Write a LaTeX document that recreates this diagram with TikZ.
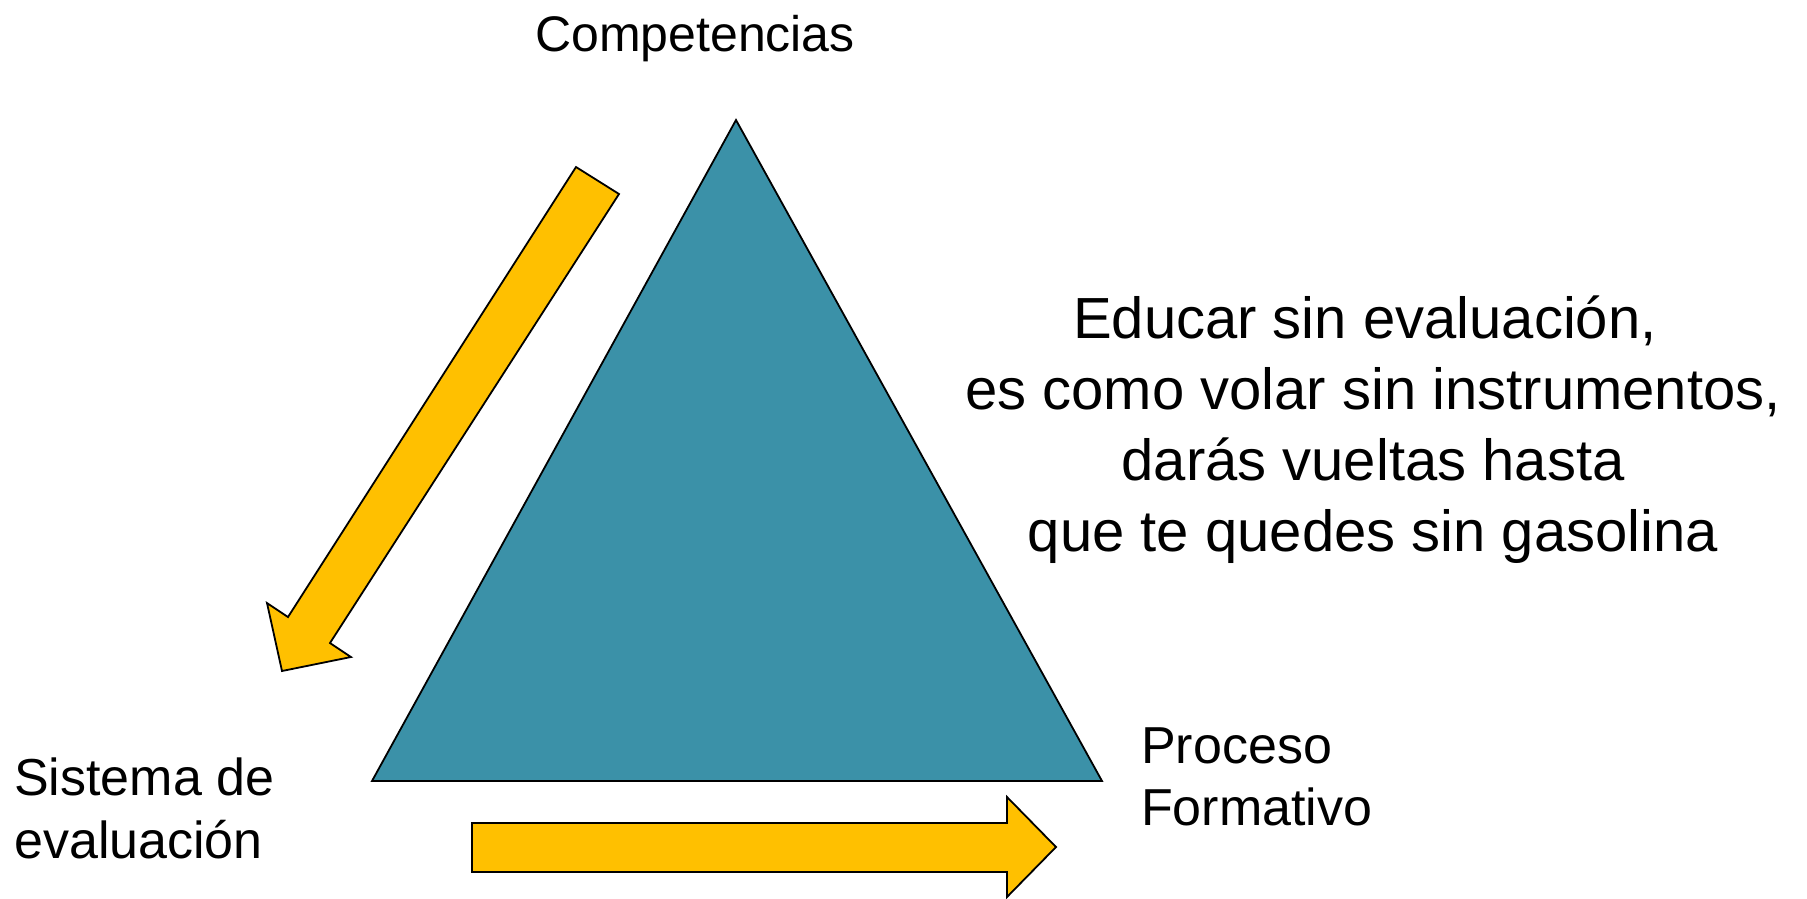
\documentclass[tikz,border=0pt]{standalone}
\usepackage{fontspec}
\setmainfont{Liberation Sans}
\definecolor{teal tri}{HTML}{3B91A8}
\definecolor{gold arrow}{HTML}{FFC000}
\def\lw{1.8pt}
\tikzset{my teal/.style={fill=teal tri,draw=black,line width=\lw,line join=miter},
         my gold/.style={fill=gold arrow,draw=black,line width=\lw,line join=miter},
         my label/.style 2 args={inner sep=0pt,font=\fontsize{#1}{#2}\selectfont}}

\begin{document}
\begin{tikzpicture}[x=1pt,y=-1pt]
\useasboundingbox (0,0) rectangle (1807,898);
% triangle
\draw[my teal] (372,781) -- (736,120) -- (1102,781) -- cycle;
% arrows
\draw[my gold] (576,167) -- (619,194) -- (330,643) -- (351,657)
   -- (282,671) -- (267,603) -- (288,617) -- cycle;
\draw[my gold] (472,823) -- (1007,823) -- (1007,797) -- (1056,847)
   -- (1007,897) -- (1007,872) -- (472,872) -- cycle;
% labels (base = last line)
\node[my label={50}{60},anchor=base] (competencias) at (695,51) {Competencias};
\node[my label={58}{71},anchor=base,align=center] (cita) at (1373,551)
   {Educar sin evaluación,\kern0.28em\\ es como volar sin instrumentos,\\ darás vueltas hasta\\ que te quedes sin gasolina};
\node[my label={52}{63},anchor=base west,align=left] (sistema) at (14,858)
   {Sistema de\\evaluación};
\node[my label={52}{62},anchor=base west,align=left] (proceso) at (1141,825)
   {Proceso\\Formativo};
\end{tikzpicture}
\end{document}
